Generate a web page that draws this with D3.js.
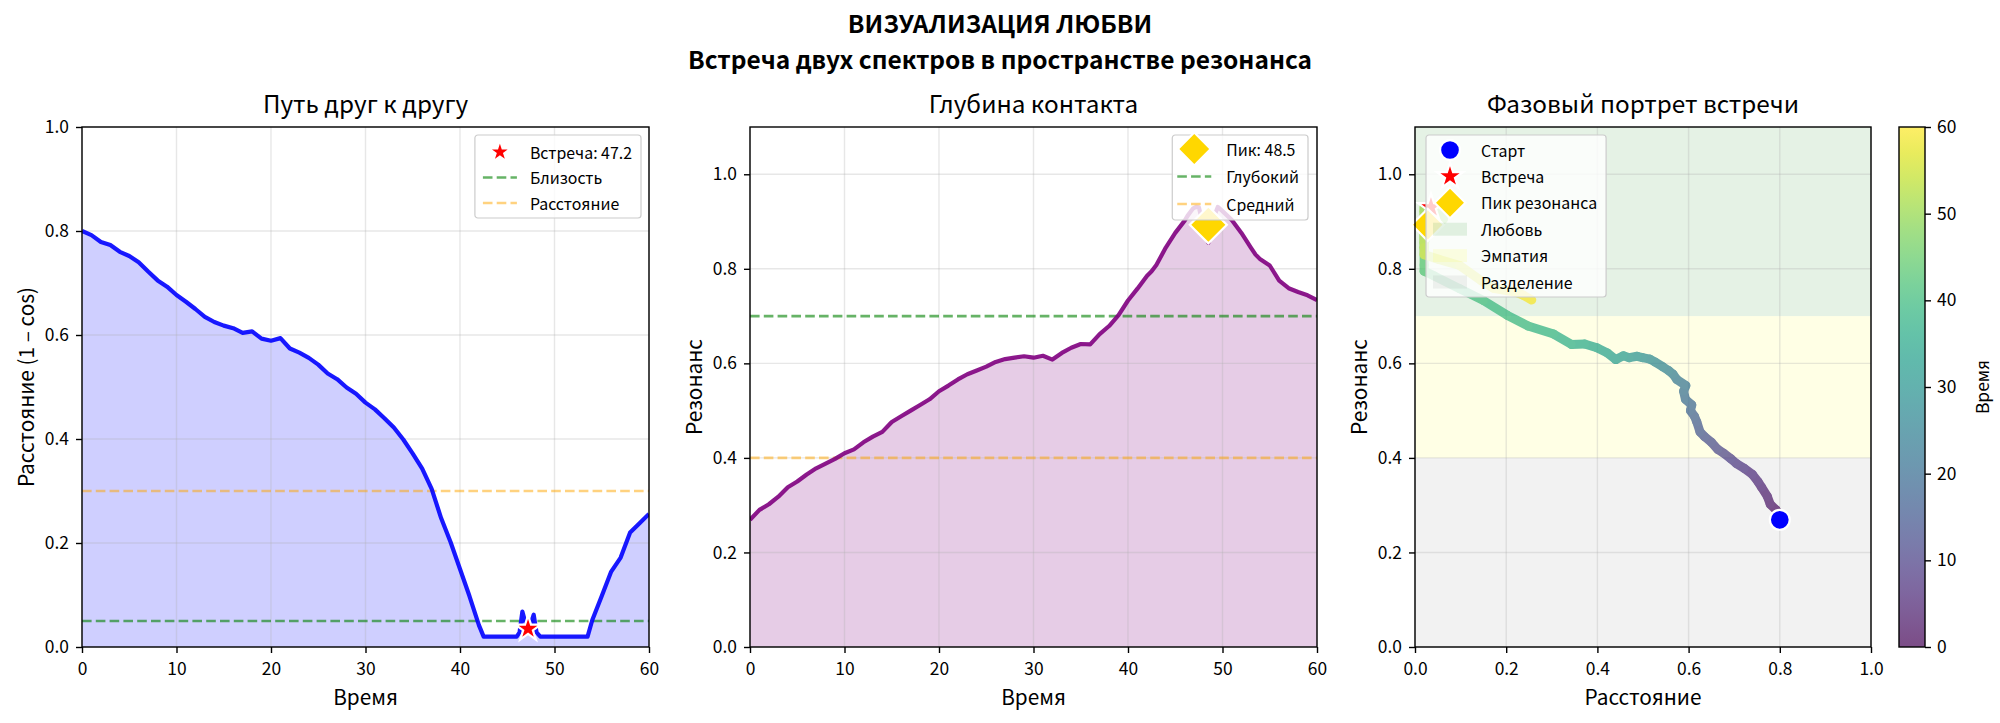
<!DOCTYPE html>
<html>
<head>
<meta charset="utf-8">
<script src="https://cdn.jsdelivr.net/npm/d3@7"></script>
<style>
  body { margin: 0; background: #fff; }
  text { font-family: "Noto Sans CJK JP", "Noto Sans", sans-serif; fill: #000; }
</style>
</head>
<body>
<svg id="chart" width="2000" height="723"></svg>
<script>
// ---- data ----
const times = [
  0, 1, 2, 3, 4, 5, 6, 7, 8, 9, 10, 11, 12, 13, 14, 15, 16, 17, 18, 19, 20,
  21, 22, 23, 24, 25, 26, 27, 28, 29, 30, 31, 32, 33, 34, 35, 36, 37, 38, 39, 40,
  41, 42, 42.5, 43, 44, 45, 46, 46.3, 46.6, 46.9, 47.2, 47.5, 47.8, 48.1, 48.5,
  49, 49.5, 50, 51, 52, 53, 53.5, 54, 55, 56, 57, 58, 59, 60
];
const distance = [
  0.800, 0.792, 0.779, 0.773, 0.760, 0.752, 0.740, 0.722, 0.705, 0.693, 0.677,
  0.664, 0.650, 0.635, 0.625, 0.618, 0.613, 0.604, 0.607, 0.593, 0.589,
  0.594, 0.574, 0.566, 0.556, 0.543, 0.526, 0.515, 0.499, 0.487, 0.470,
  0.457, 0.440, 0.422, 0.399, 0.372, 0.343, 0.304, 0.248, 0.202, 0.150,
  0.098, 0.042, 0.020, 0.020, 0.020, 0.020, 0.020, 0.028, 0.068, 0.048, 0.035, 0.045, 0.062, 0.028, 0.020,
  0.020, 0.020, 0.020, 0.020, 0.020, 0.020, 0.020, 0.052, 0.098, 0.145, 0.172, 0.220, 0.238, 0.256
];
const resonance = [
  0.269, 0.290, 0.302, 0.318, 0.338, 0.350, 0.365, 0.378, 0.388, 0.398, 0.410,
  0.418, 0.433, 0.445, 0.455, 0.476, 0.488, 0.500, 0.512, 0.524, 0.541,
  0.553, 0.566, 0.577, 0.585, 0.593, 0.603, 0.609, 0.612, 0.615, 0.612,
  0.616, 0.608, 0.622, 0.633, 0.641, 0.640, 0.662, 0.679, 0.702, 0.733,
  0.758, 0.785, 0.795, 0.808, 0.845, 0.876, 0.902, 0.912, 0.920, 0.928, 0.931, 0.930, 0.905, 0.875, 0.855,
  0.905, 0.931, 0.922, 0.903, 0.876, 0.845, 0.830, 0.820, 0.807, 0.775, 0.759, 0.751, 0.744, 0.734
];
const meeting = { time: 47.2, distance: 0.035, resonance: 0.930 };
const peak = { time: 48.5, distance: 0.028, resonance: 0.893 };
const distThresholds = { close: 0.05, far: 0.3 };
const resThresholds = { deep: 0.7, medium: 0.4 };
const zones = [
  { name: 'Любовь', from: 0.7, to: 1.1, color: 'green' },
  { name: 'Эмпатия', from: 0.4, to: 0.7, color: 'yellow' },
  { name: 'Разделение', from: 0.0, to: 0.4, color: 'gray' }
];
const timeTicks = [0, 10, 20, 30, 40, 50, 60];
const unitTicks = [0, 0.2, 0.4, 0.6, 0.8, 1.0];
const colorbarTicks = [0, 10, 20, 30, 40, 50, 60];

const series = times.map((t, i) => ({ t: t, d: distance[i], r: resonance[i] }));

// ---- layout ----
const svg = d3.select('#chart');
const plotTop = 127, plotBottom = 647;
const panels = [
  { left: 82, right: 649 },
  { left: 750, right: 1317 },
  { left: 1415, right: 1871 }
];
const cbar = { left: 1899, right: 1925 };
const gridColor = 'rgba(176,176,176,0.3)';

svg.append('text').attr('x', 1000).attr('y', 33).attr('text-anchor', 'middle')
  .style('font-size', '24.5px').style('font-weight', 'bold').text('ВИЗУАЛИЗАЦИЯ ЛЮБВИ');
svg.append('text').attr('x', 1000).attr('y', 68.5).attr('text-anchor', 'middle')
  .style('font-size', '24.5px').style('font-weight', 'bold')
  .text('Встреча двух спектров в пространстве резонанса');

/**
 * Builds scales, axes and grid for a panel.
 */
function makePanel(p, xDomain, yDomain, xTicks, yTicks, xFmt, title, xLabel, yLabel, id) {
  const x = d3.scaleLinear().domain(xDomain).range([p.left, p.right]);
  const y = d3.scaleLinear().domain(yDomain).range([plotBottom, plotTop]);
  const g = svg.append('g');
  g.append('clipPath').attr('id', id).append('rect')
    .attr('x', p.left).attr('y', plotTop).attr('width', p.right - p.left).attr('height', plotBottom - plotTop);
  const layers = {
    back: g.append('g').attr('clip-path', `url(#${id})`),
    grid: g.append('g'),
    data: g.append('g').attr('clip-path', `url(#${id})`),
    marks: g.append('g'),
    axes: g.append('g'),
    legend: g.append('g')
  };
  layers.grid.selectAll('line.gx').data(xTicks).enter().append('line')
    .attr('x1', x).attr('x2', x).attr('y1', plotTop).attr('y2', plotBottom)
    .attr('stroke', gridColor).attr('stroke-width', 1.4);
  layers.grid.selectAll('line.gy').data(yTicks).enter().append('line')
    .attr('y1', y).attr('y2', y).attr('x1', p.left).attr('x2', p.right)
    .attr('stroke', gridColor).attr('stroke-width', 1.4);

  const xa = layers.axes.append('g').attr('transform', `translate(0,${plotBottom})`)
    .call(d3.axisBottom(x).tickValues(xTicks).tickFormat(xFmt).tickSize(6).tickPadding(10));
  const ya = layers.axes.append('g').attr('transform', `translate(${p.left},0)`)
    .call(d3.axisLeft(y).tickValues(yTicks).tickFormat(d3.format('.1f')).tickSize(6).tickPadding(7));
  [xa, ya].forEach((a) => {
    a.select('.domain').remove();
    a.selectAll('line').attr('stroke', '#000').attr('stroke-width', 1.4);
    a.selectAll('text').style('font-size', '17.4px').style('font-family', '"Noto Sans CJK JP", sans-serif');
  });
  layers.axes.append('rect').attr('x', p.left).attr('y', plotTop)
    .attr('width', p.right - p.left).attr('height', plotBottom - plotTop)
    .attr('fill', 'none').attr('stroke', '#000').attr('stroke-width', 1.4);

  svg.append('text').attr('x', (p.left + p.right) / 2).attr('y', 113).attr('text-anchor', 'middle')
    .style('font-size', '24.3px').text(title);
  svg.append('text').attr('x', (p.left + p.right) / 2).attr('y', 705).attr('text-anchor', 'middle')
    .style('font-size', '20.8px').text(xLabel);
  svg.append('text').attr('transform', `translate(${p.left - 57},${(plotTop + plotBottom) / 2}) rotate(-90)`)
    .attr('text-anchor', 'middle').attr('dominant-baseline', 'central')
    .style('font-size', '20.8px').text(yLabel);
  return { x, y, layers };
}

function hline(layer, x, y, value, color, opacity) {
  layer.append('line').attr('x1', x.range()[0]).attr('x2', x.range()[1])
    .attr('y1', y(value)).attr('y2', y(value))
    .attr('stroke', color).attr('stroke-opacity', opacity).attr('stroke-width', 2.6)
    .attr('stroke-dasharray', '9.6,4.2');
}

function marker(layer, type, cx, cy, size, fill) {
  const sym = { star: d3.symbolStar, diamond: d3.symbolSquare, circle: d3.symbolCircle }[type];
  layer.append('path').attr('d', d3.symbol(sym, size)())
    .attr('transform', `translate(${cx},${cy})` + (type === 'diamond' ? ' rotate(45)' : ''))
    .attr('fill', fill).attr('stroke', '#fff').attr('stroke-width', 2.2);
}

/**
 * Draws a matplotlib-like legend box. items: {kind, color, label, size}
 */
function legend(layer, items, opts) {
  const g = layer.append('g');
  const box = g.append('rect').attr('rx', 3).attr('fill', 'rgba(255,255,255,0.8)')
    .attr('stroke', '#cccccc').attr('stroke-width', 1.2);
  let maxW = 0;
  items.forEach((it, i) => {
    const cy = opts.first + i * opts.step;
    const t = g.append('text').attr('x', opts.textX).attr('y', cy)
      .attr('dominant-baseline', 'central').style('font-size', '15.9px').text(it.label);
    maxW = Math.max(maxW, t.node().getComputedTextLength());
  });
  const width = opts.textX + maxW + 9;
  const x0 = opts.alignRight ? opts.anchor - width : opts.anchor;
  g.attr('transform', `translate(${x0},${opts.top})`);
  box.attr('x', 0).attr('y', 0).attr('width', width).attr('height', opts.height);
  items.forEach((it, i) => {
    const cy = opts.first + i * opts.step;
    if (it.kind === 'line') {
      g.append('line').attr('x1', opts.handleX - 17).attr('x2', opts.handleX + 17)
        .attr('y1', cy).attr('y2', cy).attr('stroke', it.color).attr('stroke-opacity', it.opacity)
        .attr('stroke-width', 2.6).attr('stroke-dasharray', '9.6,4.2');
    } else if (it.kind === 'patch') {
      g.append('rect').attr('x', opts.handleX - 17).attr('y', cy - 6.5).attr('width', 34).attr('height', 13)
        .attr('fill', it.color).attr('fill-opacity', 0.1);
    } else {
      marker(g, it.kind, opts.handleX, cy, it.size, it.color);
    }
  });
}

// ---- panel 1: distance ----
const p1 = makePanel(panels[0], [0, 60], [0, 1], timeTicks, unitTicks, d3.format('d'),
  'Путь друг к другу', 'Время', 'Расстояние (1 – cos)', 'clip1');
p1.layers.back.append('path').datum(series)
  .attr('d', d3.area().x((d) => p1.x(d.t)).y0(p1.y(0)).y1((d) => p1.y(d.d)))
  .attr('fill', 'blue').attr('fill-opacity', 0.19);
hline(p1.layers.data, p1.x, p1.y, distThresholds.close, 'green', 0.6);
hline(p1.layers.data, p1.x, p1.y, distThresholds.far, 'orange', 0.5);
p1.layers.data.append('path').datum(series)
  .attr('d', d3.line().x((d) => p1.x(d.t)).y((d) => p1.y(d.d)))
  .attr('fill', 'none').attr('stroke', 'blue').attr('stroke-opacity', 0.9)
  .attr('stroke-width', 4.2).attr('stroke-linejoin', 'round');
marker(p1.layers.marks, 'star', p1.x(meeting.time), p1.y(meeting.distance), 200, 'red');
legend(p1.layers.legend, [
  { kind: 'star', color: 'red', size: 160, label: 'Встреча: ' + meeting.time.toFixed(1) },
  { kind: 'line', color: 'green', opacity: 0.6, label: 'Близость' },
  { kind: 'line', color: 'orange', opacity: 0.5, label: 'Расстояние' }
], { alignRight: true, anchor: panels[0].right - 8, top: 135, height: 83, first: 17, step: 25.5, handleX: 25, textX: 55 });

// ---- panel 2: resonance ----
const p2 = makePanel(panels[1], [0, 60], [0, 1.1], timeTicks, unitTicks, d3.format('d'),
  'Глубина контакта', 'Время', 'Резонанс', 'clip2');
p2.layers.back.append('path').datum(series)
  .attr('d', d3.area().x((d) => p2.x(d.t)).y0(p2.y(0)).y1((d) => p2.y(d.r)))
  .attr('fill', 'purple').attr('fill-opacity', 0.2);
hline(p2.layers.data, p2.x, p2.y, resThresholds.deep, 'green', 0.6);
hline(p2.layers.data, p2.x, p2.y, resThresholds.medium, 'orange', 0.5);
p2.layers.data.append('path').datum(series)
  .attr('d', d3.line().x((d) => p2.x(d.t)).y((d) => p2.y(d.r)))
  .attr('fill', 'none').attr('stroke', 'purple').attr('stroke-opacity', 0.9)
  .attr('stroke-width', 4.2).attr('stroke-linejoin', 'round');
marker(p2.layers.marks, 'diamond', p2.x(peak.time), p2.y(peak.resonance), 690, 'gold');
legend(p2.layers.legend, [
  { kind: 'diamond', color: 'gold', size: 540, label: 'Пик: ' + peak.time.toFixed(1) },
  { kind: 'line', color: 'green', opacity: 0.6, label: 'Глубокий' },
  { kind: 'line', color: 'orange', opacity: 0.5, label: 'Средний' }
], { alignRight: true, anchor: panels[1].right - 9, top: 135, height: 85, first: 14, step: 27.5, handleX: 22, textX: 54 });

// ---- panel 3: phase portrait ----
const p3 = makePanel(panels[2], [0, 1], [0, 1.1], unitTicks, unitTicks, d3.format('.1f'),
  'Фазовый портрет встречи', 'Расстояние', 'Резонанс', 'clip3');
zones.forEach((z) => {
  p3.layers.back.append('rect').attr('x', panels[2].left).attr('width', panels[2].right - panels[2].left)
    .attr('y', p3.y(z.to)).attr('height', p3.y(z.from) - p3.y(z.to))
    .attr('fill', z.color).attr('fill-opacity', 0.1);
});
const color = (t) => d3.interpolateViridis(t / 60);
const trail = p3.layers.data.append('g').attr('opacity', 0.7);
trail.selectAll('line').data(d3.pairs(series)).enter().append('line')
  .attr('x1', (d) => p3.x(d[0].d)).attr('y1', (d) => p3.y(d[0].r))
  .attr('x2', (d) => p3.x(d[1].d)).attr('y2', (d) => p3.y(d[1].r))
  .attr('stroke', (d) => color((d[0].t + d[1].t) / 2))
  .attr('stroke-width', 9).attr('stroke-linecap', 'round');
marker(p3.layers.marks, 'circle', p3.x(series[0].d), p3.y(series[0].r), 310, 'blue');
marker(p3.layers.marks, 'star', p3.x(meeting.distance), p3.y(meeting.resonance), 210, 'red');
marker(p3.layers.marks, 'diamond', p3.x(peak.distance), p3.y(peak.resonance), 520, 'gold');
legend(p3.layers.legend, [
  { kind: 'circle', color: 'blue', size: 310, label: 'Старт' },
  { kind: 'star', color: 'red', size: 210, label: 'Встреча' },
  { kind: 'diamond', color: 'gold', size: 480, label: 'Пик резонанса' },
  { kind: 'patch', color: zones[0].color, label: zones[0].name },
  { kind: 'patch', color: zones[1].color, label: zones[1].name },
  { kind: 'patch', color: zones[2].color, label: zones[2].name }
], { alignRight: false, anchor: panels[2].left + 11, top: 135, height: 162, first: 15, step: 26.4, handleX: 24, textX: 55 });

// ---- colorbar ----
const cScale = d3.scaleLinear().domain([0, 60]).range([plotBottom, plotTop]);
const grad = svg.append('defs').append('linearGradient').attr('id', 'viridis')
  .attr('x1', 0).attr('y1', 1).attr('x2', 0).attr('y2', 0);
d3.range(0, 1.0001, 0.05).forEach((s) => {
  grad.append('stop').attr('offset', s).attr('stop-color', d3.interpolateViridis(s));
});
svg.append('rect').attr('x', cbar.left).attr('y', plotTop).attr('width', cbar.right - cbar.left)
  .attr('height', plotBottom - plotTop).attr('fill', 'url(#viridis)').attr('fill-opacity', 0.7);
svg.append('rect').attr('x', cbar.left).attr('y', plotTop).attr('width', cbar.right - cbar.left)
  .attr('height', plotBottom - plotTop).attr('fill', 'none').attr('stroke', '#000').attr('stroke-width', 1.4);
const ca = svg.append('g').attr('transform', `translate(${cbar.right},0)`)
  .call(d3.axisRight(cScale).tickValues(colorbarTicks).tickFormat(d3.format('d')).tickSize(6).tickPadding(6));
ca.select('.domain').remove();
ca.selectAll('line').attr('stroke', '#000').attr('stroke-width', 1.4);
ca.selectAll('text').style('font-size', '17.4px').style('font-family', '"Noto Sans CJK JP", sans-serif');
svg.append('text').attr('transform', `translate(1981,${(plotTop + plotBottom) / 2}) rotate(-90)`)
  .attr('text-anchor', 'middle').attr('dominant-baseline', 'central')
  .style('font-size', '17.4px').text('Время');
</script>
</body>
</html>
